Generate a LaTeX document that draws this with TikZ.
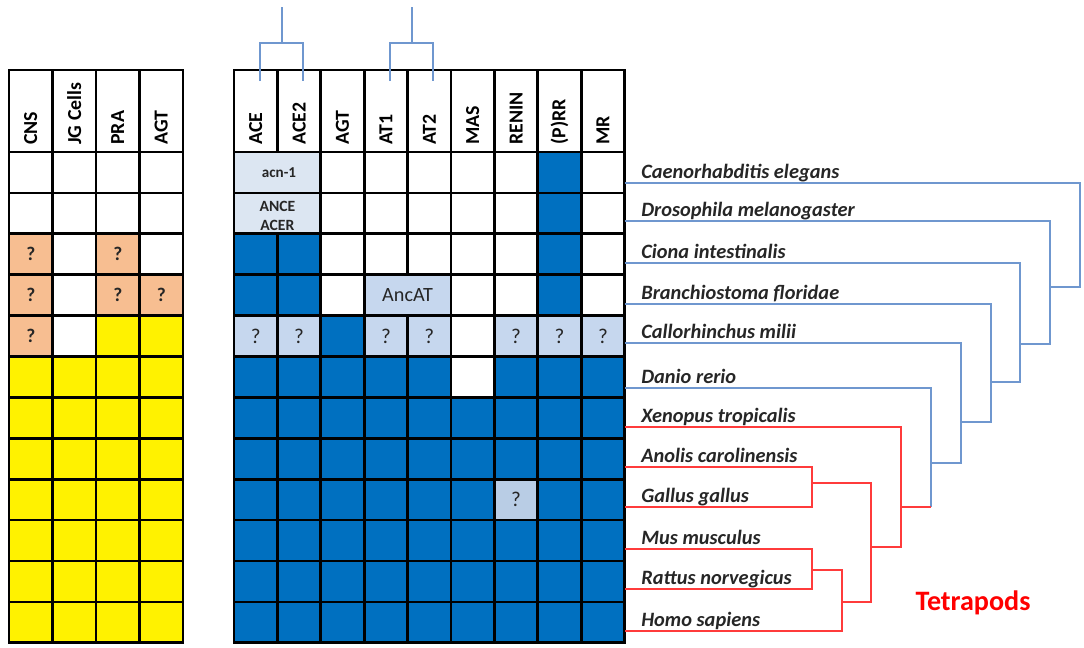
\documentclass[tikz,border=0pt]{standalone}
\usepackage{fontspec}
\setmainfont{Carlito}
\usepackage{tikz}

\definecolor{cellblue}{HTML}{0070C0}
\definecolor{palecell}{HTML}{DCE6F2}
\definecolor{qcell}{HTML}{C6D7EE}
\definecolor{greycell}{HTML}{B9CDE5}
\definecolor{orangecell}{HTML}{F7BE91}
\definecolor{treeblue}{HTML}{6F97CF}
\definecolor{treered}{HTML}{FF3B3B}
\definecolor{inkgrey}{HTML}{262626}

\tikzset{
  gridline/.style={draw=black, line width=1.5pt, line cap=rect},
  colhead/.style={rotate=90, anchor=west, inner sep=0pt, text=black,
    font=\bfseries\fontsize{11.3}{12}\selectfont},
  species/.style={anchor=base west, inner sep=0pt, text=inkgrey,
    font=\bfseries\itshape\fontsize{11.6}{13}\selectfont},
  qmark/.style={text=inkgrey, font=\fontsize{12}{13}\selectfont},
  qorange/.style={text=inkgrey, font=\bfseries\fontsize{11}{12}\selectfont},
  bluetree/.style={color=treeblue, line width=0.9pt},
  redtree/.style={color=treered, line width=0.9pt}
}

\begin{document}
\begin{tikzpicture}[x=0.2mm, y=-0.2mm]
    \useasboundingbox (0,0) rectangle (1084,647);

    % left table: fills
    \fill[yellow] (9,356.5) rectangle (183,642.8);
    \fill[yellow] (96,315.6) rectangle (183,356.5);
    \fill[orangecell] (9,233.8) rectangle (52.5,356.5);
    \fill[orangecell] (96,233.8) rectangle (139.5,315.6);
    \fill[orangecell] (139.5,274.7) rectangle (183,315.6);

    % left table: lines
    \foreach \x in {9,52.5,96,139.5,183}
        \draw[gridline] (\x,70) -- (\x,642.8);
    \draw[gridline] (9,70) -- (183,70);
    \foreach \k in {0,...,12}
        \draw[gridline] (9,{152+40.9*\k}) -- (183,{152+40.9*\k});

    \node[colhead] (hcns) at (30.75,145) {CNS};
    \node[colhead] (hjg) at (74.25,145) {JG Cells};
    \node[colhead] (hpra) at (117.75,145) {PRA};
    \node[colhead] (hagtl) at (161.25,145) {AGT};

    \node[qorange] (q1) at (30.75,254.25) {?};
    \node[qorange] (q2) at (117.75,254.25) {?};
    \node[qorange] (q3) at (30.75,295.15) {?};
    \node[qorange] (q4) at (117.75,295.15) {?};
    \node[qorange] (q5) at (161.25,295.15) {?};
    \node[qorange] (q6) at (30.75,336.05) {?};

    % right table: fills
    \fill[cellblue] (234,356.5) rectangle (624.6,642.8);
    \fill[white] (451,356.5) rectangle (494.4,397.4);
    \fill[greycell] (494.4,479.2) rectangle (537.8,520.1);
    \fill[cellblue] (537.8,152) rectangle (581.2,315.6);
    \fill[cellblue] (234,233.8) rectangle (320.8,315.6);
    \fill[qcell] (234,315.6) rectangle (624.6,356.5);
    \fill[cellblue] (320.8,315.6) rectangle (364.2,356.5);
    \fill[white] (451,315.6) rectangle (494.4,356.5);

    % right table: lines
    \foreach \c in {0,...,9}
        \draw[gridline] ({234+43.4*\c},70) -- ({234+43.4*\c},642.8);
    \draw[gridline] (234,70) -- (624.6,70);
    \foreach \k in {0,...,12}
        \draw[gridline] (234,{152+40.9*\k}) -- (624.6,{152+40.9*\k});

    % merged cells
    \draw[gridline, fill=palecell] (234,152) rectangle (320.8,192.9);
    \draw[gridline, fill=palecell] (234,192.9) rectangle (320.8,233.8);
    \draw[gridline, fill=qcell] (364.2,274.7) rectangle (451,315.6);

    \node[text=inkgrey, font=\bfseries\fontsize{8.6}{10}\selectfont] (acn) at (279,172.45) {acn-1};
    \node[text=inkgrey, align=center, inner sep=0pt,
    font=\bfseries\fontsize{8.9}{10.6}\selectfont] (ance) at (277.4,216) {ANCE\\ACER};
    \node[text=inkgrey, font=\fontsize{11.5}{13}\selectfont] (ancat) at (407.6,295.15) {AncAT};

    \node[colhead] (hace) at (255.7,145) {ACE};
    \node[colhead] (hace2) at (299.1,145) {ACE2};
    \node[colhead] (hagt) at (342.5,145) {AGT};
    \node[colhead] (hat1) at (385.9,145) {AT1};
    \node[colhead] (hat2) at (429.3,145) {AT2};
    \node[colhead] (hmas) at (472.7,145) {MAS};
    \node[colhead] (hren) at (516.1,145) {RENIN};
    \node[colhead] (hprr) at (559.5,145) {(P)RR};
    \node[colhead] (hmr) at (602.9,145) {MR};

    \node[qmark] (cq1) at (255.7,336.05) {?};
    \node[qmark] (cq2) at (299.1,336.05) {?};
    \node[qmark] (cq3) at (385.9,336.05) {?};
    \node[qmark] (cq4) at (429.3,336.05) {?};
    \node[qmark] (cq5) at (516.1,336.05) {?};
    \node[qmark] (cq6) at (559.5,336.05) {?};
    \node[qmark] (cq7) at (602.9,336.05) {?};
    \node[qmark] (gq) at (516.1,499.65) {?};

    % gene pairs above the header
    \coordinate (aceTip) at (260,81);
    \coordinate (ace2Tip) at (303,81);
    \coordinate (acePair) at (282,43);
    \coordinate (aceRoot) at (282,7);
    \draw[bluetree] (aceTip) |- (acePair) -| (ace2Tip);
    \draw[bluetree] (acePair) -- (aceRoot);

    \coordinate (at1Tip) at (390,81);
    \coordinate (at2Tip) at (433,81);
    \coordinate (atPair) at (412,43);
    \coordinate (atRoot) at (412,7);
    \draw[bluetree] (at1Tip) |- (atPair) -| (at2Tip);
    \draw[bluetree] (atPair) -- (atRoot);

    % species
    \node[species] (ce) at (641,178) {Caenorhabditis elegans};
    \node[species] (dm) at (641,216) {Drosophila melanogaster};
    \node[species] (ci) at (641,258) {Ciona intestinalis};
    \node[species] (bf) at (641,299) {Branchiostoma floridae};
    \node[species] (cm) at (641,338) {Callorhinchus milii};
    \node[species] (dr) at (641,383) {Danio rerio};
    \node[species] (xt) at (641,422) {Xenopus tropicalis};
    \node[species] (ac) at (641,462) {Anolis carolinensis};
    \node[species] (gg) at (641,502) {Gallus gallus};
    \node[species] (mm) at (641,544) {Mus musculus};
    \node[species] (rn) at (641,584) {Rattus norvegicus};
    \node[species] (hs) at (641,626) {Homo sapiens};

    \coordinate (ceL) at (624.6,183);
    \coordinate (dmL) at (624.6,221);
    \coordinate (ciL) at (624.6,263);
    \coordinate (bfL) at (624.6,304);
    \coordinate (cmL) at (624.6,343);
    \coordinate (drL) at (624.6,388);
    \coordinate (xtL) at (624.6,427);
    \coordinate (acL) at (624.6,467);
    \coordinate (ggL) at (624.6,507);
    \coordinate (mmL) at (624.6,549);
    \coordinate (rnL) at (624.6,589);
    \coordinate (hsL) at (624.6,631);

    % tree
    \coordinate (b1) at (1080,287);
    \coordinate (b2) at (1050,344);
    \coordinate (b3) at (1020,382);
    \coordinate (b4) at (991,422);
    \coordinate (b5) at (961,463);
    \coordinate (b6) at (931,507);
    \draw[bluetree] (ceL) -| (b1) -- (b1 -| b2);
    \draw[bluetree] (dmL) -| (b2) -- (b2 -| b3);
    \draw[bluetree] (ciL) -| (b3) -- (b3 -| b4);
    \draw[bluetree] (bfL) -| (b4) -- (b4 -| b5);
    \draw[bluetree] (cmL) -| (b5) -- (b5 -| b6);
    \draw[bluetree] (drL) -| (b6);

    \coordinate (tetra) at (901,547);
    \coordinate (amnio) at (871,602);
    \coordinate (sauro) at (812,483);
    \coordinate (murid) at (812,570);
    \coordinate (mamm) at (842,570);
    \draw[redtree] (b6) -- (b6 -| tetra);
    \draw[redtree] (xtL) -| (tetra) -- (tetra -| amnio);
    \draw[redtree] (acL) -| (sauro |- ggL) -- (ggL);
    \draw[redtree] (sauro) -| (amnio) -- (amnio -| mamm);
    \draw[redtree] (mmL) -| (murid |- rnL) -- (rnL);
    \draw[redtree] (murid) -| (mamm |- hsL) -- (hsL);

    \node[text=red, font=\bfseries\fontsize{16}{18}\selectfont] (tetrapods) at (973,603) {Tetrapods};
\end{tikzpicture}
\end{document}
